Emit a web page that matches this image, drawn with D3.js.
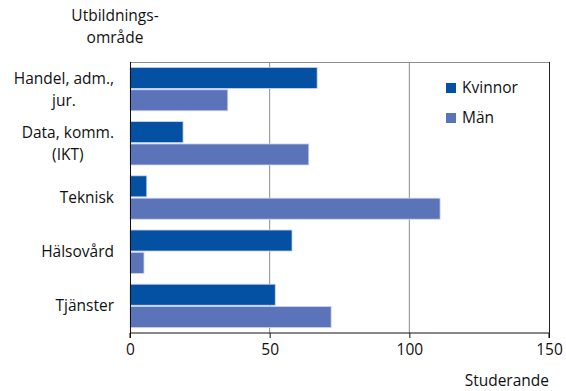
<!DOCTYPE html>
<html>
  <head>
    <script src="https://d3js.org/d3.v7.min.js"></script>
    <style>html,body{margin:0;padding:0;background:#fff;overflow:hidden;} svg{display:block;}</style>
  </head>
  <body>
    <svg width="566" height="391" id="mainsvg"></svg>
    <script>
        const categories = [['Handel, adm.,', 'jur.'], ['Data, komm.', '(IKT)'], ['Teknisk'], ['Hälsovård'], ['Tjänster']];
        const series = ['Kvinnor', 'Män'];
        const kvinnor = [67, 19, 6, 58, 52];
        const man = [35, 64, 111, 5, 72];
        const xTicks = [0, 50, 100, 150];
        const colors = ['#0450a3', '#5b73b8'];

        const svg = d3.select('#mainsvg');
        const font = '"Open Sans", sans-serif';
        const fs = 15.5;
        const margin = {top: 62, left: 130, right: 17, bottom: 58};
        const innerWidth = 566 - margin.left - margin.right;
        const innerHeight = 391 - margin.top - margin.bottom;

        const xScale = d3.scaleLinear().domain([0, 150]).range([0, innerWidth]);
        const yScale = d3.scaleBand().domain(d3.range(categories.length)).range([0, innerHeight]).paddingInner(0.2).paddingOuter(0.1);
        const sub = d3.scaleBand().domain([0, 1]).range([0, yScale.bandwidth()]).paddingInner(0.06);

        const g = svg.append('g').attr('transform', `translate(${margin.left}, ${margin.top})`);

        // grid
        g.selectAll('.grid').data(xTicks.slice(1, -1)).enter().append('line')
            .attr('x1', d => xScale(d)).attr('x2', d => xScale(d))
            .attr('y1', 0).attr('y2', innerHeight)
            .attr('stroke', '#8c8c8c').attr('stroke-width', 1);

        // frame: top grey, right dark
        g.append('line').attr('x1', 0).attr('x2', innerWidth).attr('y1', 0.5).attr('y2', 0.5).attr('stroke', '#8c8c8c');
        g.append('line').attr('x1', innerWidth + 0.5).attr('x2', innerWidth + 0.5).attr('y1', 0).attr('y2', innerHeight).attr('stroke', '#222');

        const data = [kvinnor, man];
        data.forEach((vals, s) => {
            g.selectAll('.bar' + s).data(vals).enter().append('rect')
                .attr('x', 0)
                .attr('y', (d, i) => yScale(i) + sub(s))
                .attr('width', d => xScale(d))
                .attr('height', sub.bandwidth())
                .attr('fill', colors[s])
                .attr('stroke', '#c9d4ee').attr('stroke-width', 0.8);
        });

        // axes
        const xAxis = d3.axisBottom(xScale).tickValues(xTicks).tickSize(5).tickPadding(6);
        const xg = g.append('g').attr('transform', `translate(0, ${innerHeight})`).call(xAxis);
        xg.selectAll('text').attr('font-family', font).attr('font-size', fs).attr('fill', '#111');
        xg.selectAll('line, path').attr('stroke', '#111');
        xg.select('.domain').attr('d', `M0,5V0H${innerWidth}V5`);

        g.append('line').attr('x1', 0.5).attr('x2', 0.5).attr('y1', 0).attr('y2', innerHeight).attr('stroke', '#111');

        svg.append('text').attr('x', 549).attr('y', 386).attr('text-anchor', 'end')
            .attr('font-family', font).attr('font-size', fs).attr('fill', '#111').text('Studerande');

        // measure a string once, off the visible area
        const measure = svg.append('text').attr('font-family', font).attr('font-size', fs).attr('x', 200).attr('y', 200).attr('opacity', 0);
        const textWidth = s => { measure.text(s); return measure.node().getComputedTextLength(); };

        // category labels: lines centred on each other, block right-aligned at 114
        const lh = 22;
        categories.forEach((lines, i) => {
            const cy = margin.top + yScale(i) + yScale.bandwidth() / 2;
            const w = d3.max(lines, textWidth);
            const y0 = cy - (lines.length - 1) * lh / 2;
            lines.forEach((l, k) => {
                svg.append('text').attr('font-family', font).attr('font-size', fs).attr('fill', '#111')
                    .attr('text-anchor', 'middle').attr('x', 114 - w / 2).attr('y', y0 + k * lh).attr('dy', '0.35em').text(l);
            });
        });
        measure.remove();

        ['Utbildnings-', 'område'].forEach((l, k) => {
            svg.append('text').attr('font-family', font).attr('font-size', fs).attr('fill', '#111')
                .attr('text-anchor', 'middle').attr('x', 115).attr('y', 21 + k * 22).text(l);
        });

        // legend
        const lg = svg.append('g').attr('transform', 'translate(446, 88)');
        series.forEach((s, i) => {
            lg.append('rect').attr('x', 0).attr('y', i * 30 - 5).attr('width', 10).attr('height', 10).attr('fill', colors[i]);
            lg.append('text').attr('x', 16).attr('y', i * 30).attr('dy', '0.35em')
                .attr('font-family', font).attr('font-size', fs).attr('fill', '#111').text(s);
        });
    </script>
  </body>
</html>
